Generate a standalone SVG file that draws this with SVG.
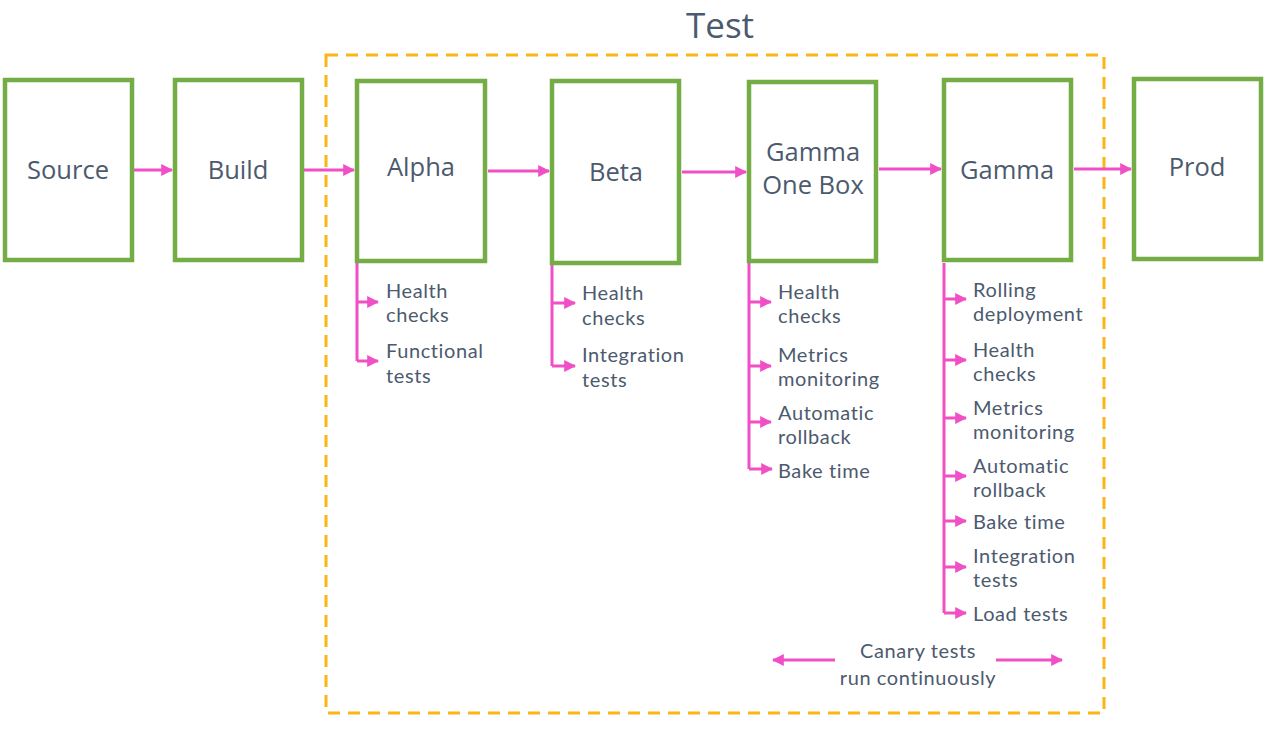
<svg xmlns="http://www.w3.org/2000/svg" width="1274" height="745" viewBox="0 0 1274 745">
<defs>
<style>
.box{fill:#fff;stroke:#74AD45;stroke-width:4.5}
.lbl{font-family:"Open Sans","Noto Sans",sans-serif;font-size:25.5px;fill:#4C5A6E;text-anchor:middle}
.itm{font-family:Lato,"Open Sans",sans-serif;font-size:20px;letter-spacing:0.6px;fill:#4C5A6E}
.con{stroke:#F04FC6;stroke-width:3;fill:none}
</style>
<marker id="ah" viewBox="0 0 10 10" refX="9" refY="5" markerWidth="4" markerHeight="4" orient="auto-start-reverse" markerUnits="strokeWidth">
<path d="M0,0 L10,5 L0,10 z" fill="#F04FC6"/>
</marker>
</defs>
<rect width="1274" height="745" fill="#fff"/>
<g id="test-frame">
<rect x="326" y="55" width="778" height="658" fill="none" stroke="#FBB515" stroke-width="3" stroke-dasharray="12 8"/>
<text x="720" y="38" font-family="'Open Sans','Noto Sans',sans-serif" font-size="35" fill="#4C5A6E" text-anchor="middle">Test</text>
</g>
<g id="connectors">
<line class="con" x1="134" y1="170" x2="172" y2="170" marker-end="url(#ah)"/>
<line class="con" x1="304" y1="170" x2="354" y2="170" marker-end="url(#ah)"/>
<line class="con" x1="488" y1="171" x2="549" y2="171" marker-end="url(#ah)"/>
<line class="con" x1="682" y1="172" x2="746" y2="172" marker-end="url(#ah)"/>
<line class="con" x1="879" y1="169" x2="941" y2="169" marker-end="url(#ah)"/>
<line class="con" x1="1074" y1="169" x2="1131" y2="169" marker-end="url(#ah)"/>
<path class="con" d="M357,263 V361"/>
<line class="con" x1="357" y1="302" x2="378" y2="302" marker-end="url(#ah)"/>
<line class="con" x1="357" y1="361" x2="378" y2="361" marker-end="url(#ah)"/>
<path class="con" d="M552,265 V366"/>
<line class="con" x1="552" y1="303" x2="575" y2="303" marker-end="url(#ah)"/>
<line class="con" x1="552" y1="366" x2="575" y2="366" marker-end="url(#ah)"/>
<path class="con" d="M749,263 V469"/>
<line class="con" x1="749" y1="302" x2="771" y2="302" marker-end="url(#ah)"/>
<line class="con" x1="749" y1="366" x2="771" y2="366" marker-end="url(#ah)"/>
<line class="con" x1="749" y1="422" x2="771" y2="422" marker-end="url(#ah)"/>
<line class="con" x1="749" y1="469" x2="772" y2="469" marker-end="url(#ah)"/>
<path class="con" d="M944,263 V613"/>
<line class="con" x1="944" y1="299" x2="966" y2="299" marker-end="url(#ah)"/>
<line class="con" x1="944" y1="360" x2="966" y2="360" marker-end="url(#ah)"/>
<line class="con" x1="944" y1="418" x2="966" y2="418" marker-end="url(#ah)"/>
<line class="con" x1="944" y1="476" x2="966" y2="476" marker-end="url(#ah)"/>
<line class="con" x1="944" y1="521" x2="966" y2="521" marker-end="url(#ah)"/>
<line class="con" x1="944" y1="567" x2="966" y2="567" marker-end="url(#ah)"/>
<line class="con" x1="944" y1="613" x2="966" y2="613" marker-end="url(#ah)"/>
<line class="con" x1="835" y1="660" x2="773" y2="660" marker-end="url(#ah)"/>
<line class="con" x1="996" y1="660" x2="1062" y2="660" marker-end="url(#ah)"/>
</g>
<g id="source"><rect class="box" x="5" y="80" width="127" height="180"/><text class="lbl" x="68" y="179">Source</text></g>
<g id="build"><rect class="box" x="175" y="80" width="127" height="180"/><text class="lbl" x="238" y="179">Build</text></g>
<g id="alpha"><rect class="box" x="357" y="81" width="128" height="180"/><text class="lbl" x="421" y="176">Alpha</text>
<text class="itm" x="386" y="298">Health<tspan x="386" dy="24">checks</tspan></text>
<text class="itm" x="386" y="358">Functional<tspan x="386" dy="25">tests</tspan></text></g>
<g id="beta"><rect class="box" x="552" y="81" width="127" height="182"/><text class="lbl" x="616" y="181" font-size="27">Beta</text>
<text class="itm" x="582" y="300">Health<tspan x="582" dy="25">checks</tspan></text>
<text class="itm" x="582" y="362">Integration<tspan x="582" dy="25">tests</tspan></text></g>
<g id="gamma-one-box"><rect class="box" x="749" y="82" width="127" height="179"/><text class="lbl" x="813" y="161">Gamma<tspan x="813" dy="33">One Box</tspan></text>
<text class="itm" x="778" y="299">Health<tspan x="778" dy="24">checks</tspan></text>
<text class="itm" x="778" y="362">Metrics<tspan x="778" dy="24">monitoring</tspan></text>
<text class="itm" x="778" y="420">Automatic<tspan x="778" dy="24">rollback</tspan></text>
<text class="itm" x="778" y="478">Bake time</text></g>
<g id="gamma"><rect class="box" x="944" y="80" width="127" height="180"/><text class="lbl" x="1007" y="179">Gamma</text>
<text class="itm" x="973" y="297">Rolling<tspan x="973" dy="24">deployment</tspan></text>
<text class="itm" x="973" y="357">Health<tspan x="973" dy="24">checks</tspan></text>
<text class="itm" x="973" y="415">Metrics<tspan x="973" dy="24">monitoring</tspan></text>
<text class="itm" x="973" y="473">Automatic<tspan x="973" dy="24">rollback</tspan></text>
<text class="itm" x="973" y="529">Bake time</text>
<text class="itm" x="973" y="563">Integration<tspan x="973" dy="24">tests</tspan></text>
<text class="itm" x="973" y="621">Load tests</text></g>
<g id="prod"><rect class="box" x="1134" y="79" width="127" height="180"/><text class="lbl" x="1197" y="176">Prod</text></g>
<g id="canary"><text class="itm" x="918" y="658" text-anchor="middle">Canary tests<tspan x="918" dy="27">run continuously</tspan></text></g>
</svg>
